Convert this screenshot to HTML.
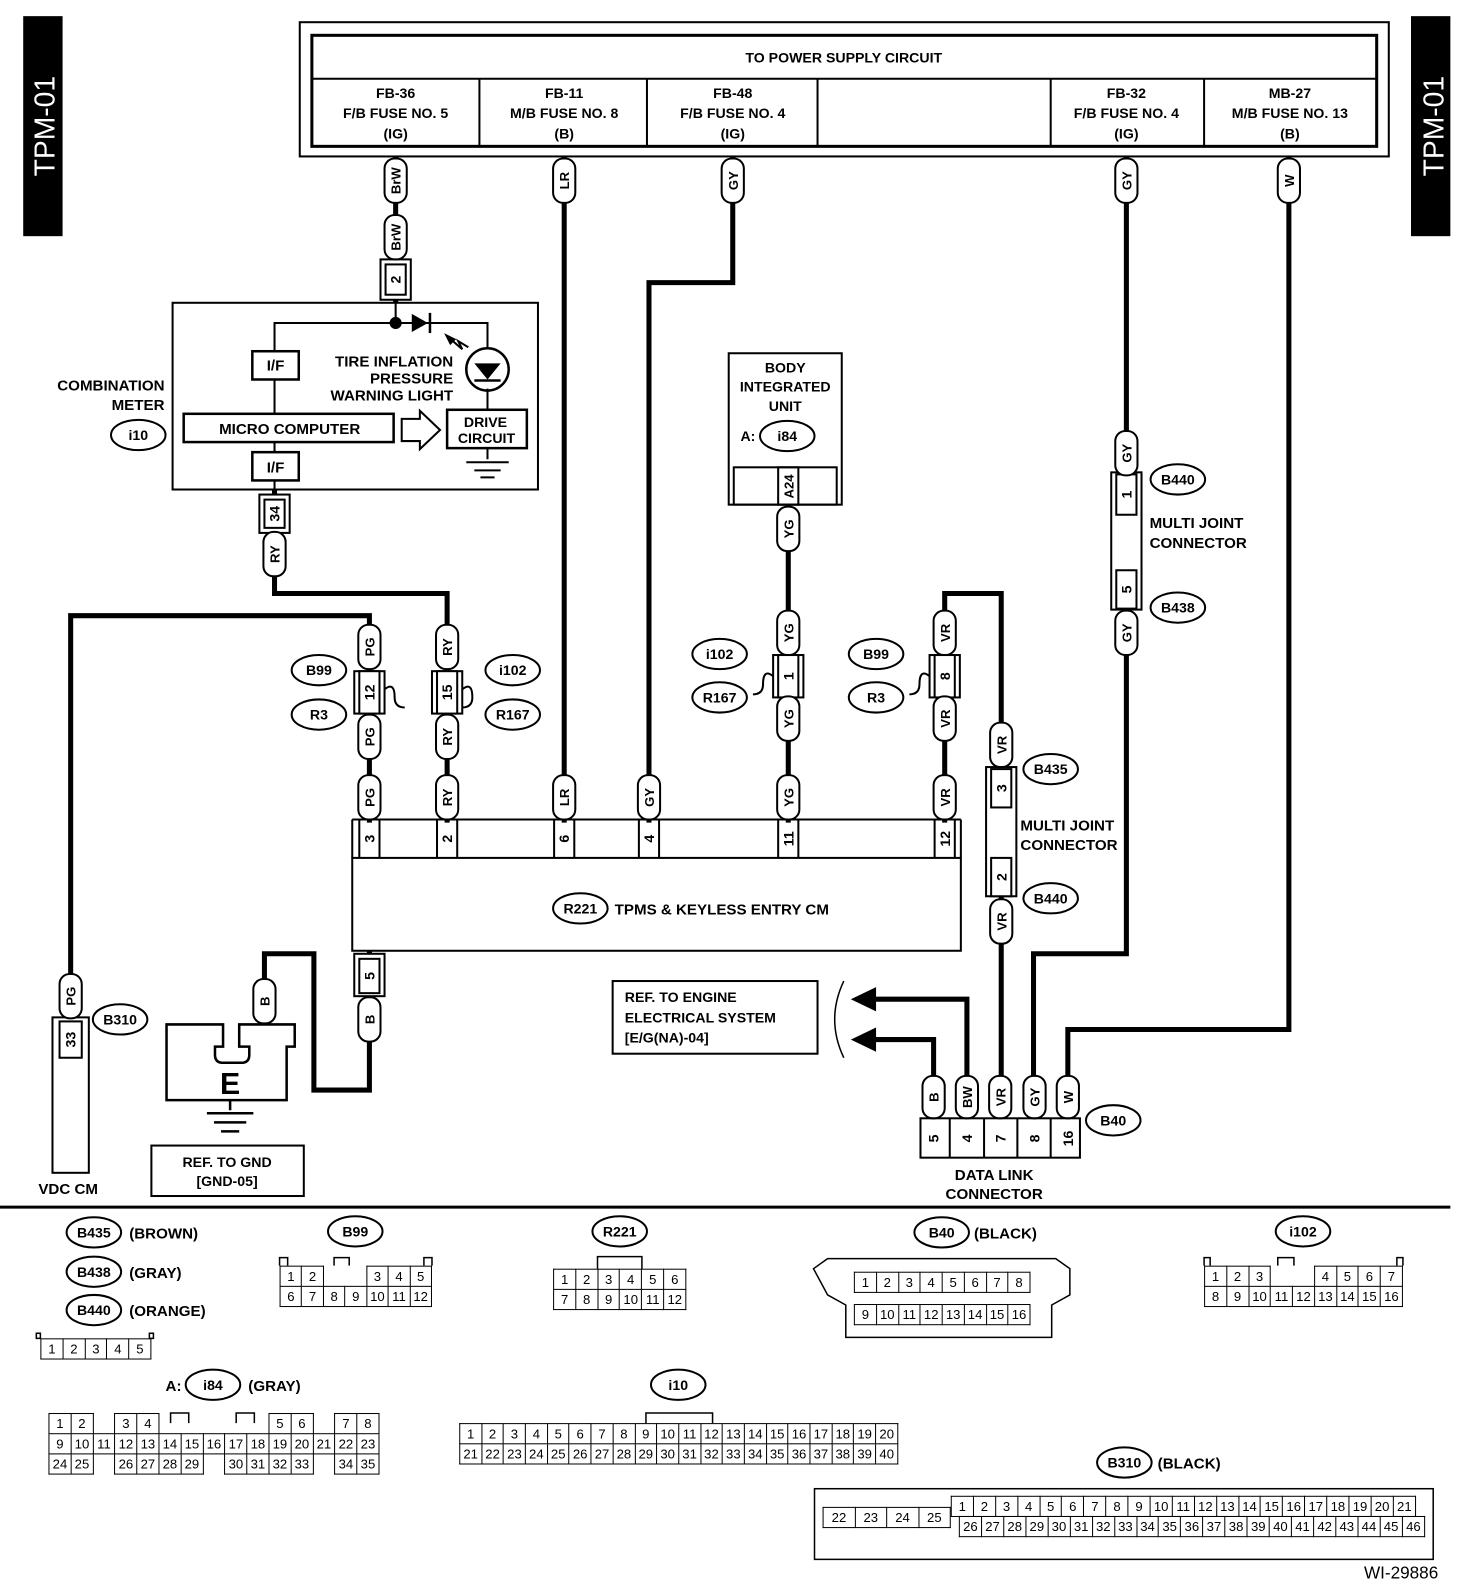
<!DOCTYPE html>
<html><head><meta charset="utf-8">
<style>
html,body{margin:0;padding:0;background:#fff;overflow:hidden;}
#wrap{position:relative;width:1472px;height:1582px;overflow:hidden;font-family:"Liberation Sans",Arial,sans-serif;transform:scale(1.0093);transform-origin:0 0;}
svg{position:absolute;left:0;top:0;}
svg text{font-family:"Liberation Sans",Arial,sans-serif;font-weight:bold;fill:#000;}
.t{position:absolute;border-collapse:collapse;table-layout:fixed;font-family:"Liberation Sans Narrow","Liberation Sans",sans-serif;font-size:13px;}
.t td{border:1.5px solid #000;padding:0;text-align:center;height:19px;line-height:19px;background:#fff;overflow:hidden;}
.t td.n{border:none;background:transparent;}
</style></head><body><div id="wrap">
<svg width="1472" height="1582" viewBox="0 0 1472 1582">
<rect x="23" y="16" width="39" height="218" fill="#000"/>
<rect x="1398" y="16" width="39" height="218" fill="#000"/>
<text transform="translate(54,125) rotate(-90)" font-size="28" style="fill:#fff;font-weight:normal" text-anchor="middle">TPM-01</text>
<text transform="translate(1430,125) rotate(-90)" font-size="28" style="fill:#fff;font-weight:normal" text-anchor="middle">TPM-01</text>
<g fill="none" stroke="#000" stroke-width="2">
<rect x="297" y="22" width="1079" height="133"/>
<rect x="309" y="35" width="1055" height="110" stroke-width="3"/>
<line x1="309" y1="78" x2="1364" y2="78"/>
<line x1="475" y1="78" x2="475" y2="145"/><line x1="641" y1="78" x2="641" y2="145"/>
<line x1="810" y1="78" x2="810" y2="145"/><line x1="1041" y1="78" x2="1041" y2="145"/>
<line x1="1193" y1="78" x2="1193" y2="145"/>
</g>
<g font-size="14" text-anchor="middle">
<text x="836" y="62">TO POWER SUPPLY CIRCUIT</text>
<text x="392" y="97">FB-36</text><text x="392" y="117">F/B FUSE NO. 5</text><text x="392" y="137">(IG)</text>
<text x="559" y="97">FB-11</text><text x="559" y="117">M/B FUSE NO. 8</text><text x="559" y="137">(B)</text>
<text x="726" y="97">FB-48</text><text x="726" y="117">F/B FUSE NO. 4</text><text x="726" y="137">(IG)</text>
<text x="1116" y="97">FB-32</text><text x="1116" y="117">F/B FUSE NO. 4</text><text x="1116" y="137">(IG)</text>
<text x="1278" y="97">MB-27</text><text x="1278" y="117">M/B FUSE NO. 13</text><text x="1278" y="137">(B)</text>
</g>
<g fill="none" stroke="#000" stroke-width="5" stroke-linejoin="miter">
<path d="M392,155V300"/>
<path d="M559,155V815"/>
<path d="M726,155V280H643V815"/>
<path d="M1116,155V945H1024V1080"/>
<path d="M1277,155V1020H1058V1080"/>
<path d="M272,485V588H443V815"/>
<path d="M70,965V610H366V815"/>
<path d="M781,500V815"/>
<path d="M936,815V588H992V1080"/>
<path d="M366,942V1080H311V945H262V1015"/>
<path d="M925,1080V1030H860"/>
<path d="M958,1080V990H860"/>
</g>
<path d="M843,1030 L868,1018 L868,1042z"/>
<path d="M843,990 L868,978 L868,1002z"/>
<path d="M836,972 Q818,1010 836,1048" fill="none" stroke="#000" stroke-width="1.5"/>
<g fill="none" stroke="#000" stroke-width="2">
<rect x="171" y="300" width="362" height="185"/>
<path d="M392,300V320M272,485V476M272,448V438M272,410V376M272,348V320H483V345M483,385V406"/>
<rect x="250" y="348" width="46" height="28" stroke-width="2.5"/>
<rect x="182" y="410" width="208" height="28" stroke-width="2.5"/>
<rect x="250" y="448" width="46" height="28" stroke-width="2.5"/>
<rect x="443" y="406" width="79" height="38" stroke-width="2.5"/>
<circle cx="483" cy="366" r="21" stroke-width="2.5"/>
<path d="M398,415h18v-8l20,19l-20,19v-8h-18z"/>
<path d="M483,444V455M462,458h42M470,466h26M476,473h14"/>
<path d="M443,333l15,13l-4,-8l10,6"/>
<line x1="426" y1="310" x2="426" y2="330" stroke-width="2.5"/>
<line x1="470" y1="377" x2="496" y2="377" stroke-width="2.5"/>
</g>
<circle cx="392" cy="320" r="6"/>
<path d="M408,311 L424,320 L408,329z"/>
<path d="M470,360 L496,360 L483,376z"/>
<path d="M440,330 L452,336 L446,342z"/>
<g font-size="15" text-anchor="middle">
<text x="273" y="367">I/F</text><text x="273" y="468">I/F</text>
<text x="287" y="430">MICRO COMPUTER</text>
<text x="481" y="423" font-size="14">DRIVE</text><text x="482" y="439" font-size="14">CIRCUIT</text>
<text x="449" y="363" text-anchor="end">TIRE INFLATION</text>
<text x="449" y="380" text-anchor="end">PRESSURE</text>
<text x="449" y="397" text-anchor="end">WARNING LIGHT</text>
<text x="163" y="387" text-anchor="end">COMBINATION</text>
<text x="163" y="406" text-anchor="end">METER</text>
</g>
<g fill="none" stroke="#000" stroke-width="2">
<rect x="722" y="350" width="112" height="150"/>
<rect x="727" y="463" width="102" height="37"/>
<rect x="771" y="463" width="20" height="37"/>
</g>
<g font-size="14" text-anchor="middle">
<text x="778" y="369">BODY</text><text x="778" y="388">INTEGRATED</text><text x="778" y="407">UNIT</text>
<text x="741" y="437">A:</text>
<text transform="translate(786,482) rotate(-90)" font-size="13">A24</text>
</g>
<g fill="none" stroke="#000" stroke-width="2">
<rect x="349" y="850" width="603" height="92"/>
<path d="M349,812V850M952,812V850M349,812H952"/>
</g>
<g fill="#fff" stroke="#000" stroke-width="2">
<rect x="377" y="257" width="30" height="40"/><rect x="382" y="262" width="20" height="30"/>
<rect x="257" y="490" width="30" height="38"/><rect x="262" y="495" width="20" height="28"/>
<rect x="351" y="665" width="30" height="42"/><rect x="356" y="665" width="20" height="42"/>
<rect x="428" y="665" width="30" height="42"/><rect x="433" y="665" width="20" height="42"/>
<rect x="766" y="649" width="30" height="42"/><rect x="771" y="649" width="20" height="42"/>
<rect x="921" y="649" width="30" height="42"/><rect x="926" y="649" width="20" height="42"/>
<rect x="977" y="760" width="30" height="128"/>
<rect x="982" y="762" width="20" height="38"/><rect x="982" y="850" width="20" height="38"/>
<rect x="1101" y="468" width="30" height="136"/>
<rect x="1106" y="470" width="20" height="40"/><rect x="1106" y="565" width="20" height="38"/>
<rect x="351" y="945" width="30" height="42"/><rect x="356" y="950" width="20" height="34"/>
<rect x="52" y="1008" width="36" height="154"/><rect x="59" y="1012" width="22" height="36"/>
<rect x="912" y="1108" width="158" height="39"/>
</g>
<g fill="none" stroke="#000" stroke-width="2">
<path d="M381,683q10,-8 10,8q0,10 10,10M458,683q10,-8 10,8q0,10 -10,10"/>
<path d="M766,670q-10,-8 -10,8q0,10 -10,10M921,670q-10,-8 -10,8q0,10 -10,10"/>
<path d="M356,812V850M376,812V850M433,812V850M453,812V850M549,812V850M569,812V850M633,812V850M653,812V850M771,812V850M791,812V850M926,812V850M946,812V850"/>
<path d="M941,1108V1147M975,1108V1147M1008,1108V1147M1041,1108V1147"/>
</g>
<g font-size="14" text-anchor="middle">
<text transform="translate(397,277) rotate(-90)">2</text>
<text transform="translate(277,509) rotate(-90)">34</text>
<text transform="translate(371,686) rotate(-90)">12</text>
<text transform="translate(448,686) rotate(-90)">15</text>
<text transform="translate(786,670) rotate(-90)">1</text>
<text transform="translate(941,670) rotate(-90)">8</text>
<text transform="translate(997,781) rotate(-90)">3</text>
<text transform="translate(997,869) rotate(-90)">2</text>
<text transform="translate(1121,490) rotate(-90)">1</text>
<text transform="translate(1121,584) rotate(-90)">5</text>
<text transform="translate(371,967) rotate(-90)">5</text>
<text transform="translate(75,1030) rotate(-90)">33</text>
<text transform="translate(371,831) rotate(-90)">3</text>
<text transform="translate(448,831) rotate(-90)">2</text>
<text transform="translate(564,831) rotate(-90)">6</text>
<text transform="translate(648,831) rotate(-90)">4</text>
<text transform="translate(786,831) rotate(-90)">11</text>
<text transform="translate(941,831) rotate(-90)">12</text>
<text transform="translate(930,1128) rotate(-90)">5</text>
<text transform="translate(963,1128) rotate(-90)">4</text>
<text transform="translate(996,1128) rotate(-90)">7</text>
<text transform="translate(1030,1128) rotate(-90)">8</text>
<text transform="translate(1063,1128) rotate(-90)">16</text>
</g>
<g fill="#fff" stroke="#000" stroke-width="2">
<rect x="381" y="157" width="22" height="44" rx="10"/>
<rect x="381" y="213" width="22" height="44" rx="10"/>
<rect x="548" y="157" width="22" height="44" rx="10"/>
<rect x="715" y="157" width="22" height="44" rx="10"/>
<rect x="1105" y="157" width="22" height="44" rx="10"/>
<rect x="1266" y="157" width="22" height="44" rx="10"/>
<rect x="261" y="527" width="22" height="44" rx="10"/>
<rect x="355" y="619" width="22" height="44" rx="10"/>
<rect x="432" y="619" width="22" height="44" rx="10"/>
<rect x="355" y="708" width="22" height="44" rx="10"/>
<rect x="432" y="708" width="22" height="44" rx="10"/>
<rect x="355" y="768" width="22" height="44" rx="10"/>
<rect x="432" y="768" width="22" height="44" rx="10"/>
<rect x="548" y="768" width="22" height="44" rx="10"/>
<rect x="632" y="768" width="22" height="44" rx="10"/>
<rect x="770" y="768" width="22" height="44" rx="10"/>
<rect x="925" y="768" width="22" height="44" rx="10"/>
<rect x="770" y="502" width="22" height="44" rx="10"/>
<rect x="770" y="605" width="22" height="44" rx="10"/>
<rect x="770" y="690" width="22" height="44" rx="10"/>
<rect x="925" y="605" width="22" height="44" rx="10"/>
<rect x="925" y="690" width="22" height="44" rx="10"/>
<rect x="981" y="716" width="22" height="44" rx="10"/>
<rect x="981" y="891" width="22" height="44" rx="10"/>
<rect x="1105" y="427" width="22" height="44" rx="10"/>
<rect x="1105" y="605" width="22" height="44" rx="10"/>
<rect x="59" y="965" width="22" height="44" rx="10"/>
<rect x="251" y="970" width="22" height="44" rx="10"/>
<rect x="355" y="988" width="22" height="44" rx="10"/>
<rect x="914" y="1066" width="22" height="42" rx="10"/>
<rect x="947" y="1066" width="22" height="42" rx="10"/>
<rect x="980" y="1066" width="22" height="42" rx="10"/>
<rect x="1014" y="1066" width="22" height="42" rx="10"/>
<rect x="1047" y="1066" width="22" height="42" rx="10"/>
</g>
<g font-size="13" text-anchor="middle">
<text transform="translate(397,179) rotate(-90)">BrW</text>
<text transform="translate(397,235) rotate(-90)">BrW</text>
<text transform="translate(564,179) rotate(-90)">LR</text>
<text transform="translate(731,179) rotate(-90)">GY</text>
<text transform="translate(1121,179) rotate(-90)">GY</text>
<text transform="translate(1282,179) rotate(-90)">W</text>
<text transform="translate(277,549) rotate(-90)">RY</text>
<text transform="translate(371,641) rotate(-90)">PG</text>
<text transform="translate(448,641) rotate(-90)">RY</text>
<text transform="translate(371,730) rotate(-90)">PG</text>
<text transform="translate(448,730) rotate(-90)">RY</text>
<text transform="translate(371,790) rotate(-90)">PG</text>
<text transform="translate(448,790) rotate(-90)">RY</text>
<text transform="translate(564,790) rotate(-90)">LR</text>
<text transform="translate(648,790) rotate(-90)">GY</text>
<text transform="translate(786,790) rotate(-90)">YG</text>
<text transform="translate(941,790) rotate(-90)">VR</text>
<text transform="translate(786,524) rotate(-90)">YG</text>
<text transform="translate(786,627) rotate(-90)">YG</text>
<text transform="translate(786,712) rotate(-90)">YG</text>
<text transform="translate(941,627) rotate(-90)">VR</text>
<text transform="translate(941,712) rotate(-90)">VR</text>
<text transform="translate(997,738) rotate(-90)">VR</text>
<text transform="translate(997,913) rotate(-90)">VR</text>
<text transform="translate(1121,449) rotate(-90)">GY</text>
<text transform="translate(1121,627) rotate(-90)">GY</text>
<text transform="translate(75,987) rotate(-90)">PG</text>
<text transform="translate(267,992) rotate(-90)">B</text>
<text transform="translate(371,1010) rotate(-90)">B</text>
<text transform="translate(930,1087) rotate(-90)">B</text>
<text transform="translate(963,1087) rotate(-90)">BW</text>
<text transform="translate(996,1087) rotate(-90)">VR</text>
<text transform="translate(1030,1087) rotate(-90)">GY</text>
<text transform="translate(1063,1087) rotate(-90)">W</text>
</g>
<g fill="#fff" stroke="#000" stroke-width="2">
<ellipse cx="137" cy="431" rx="27" ry="15"/>
<ellipse cx="780" cy="432" rx="27" ry="15"/>
<ellipse cx="1167" cy="475" rx="27" ry="15"/>
<ellipse cx="1167" cy="602" rx="27" ry="15"/>
<ellipse cx="316" cy="664" rx="27" ry="15"/>
<ellipse cx="316" cy="708" rx="27" ry="15"/>
<ellipse cx="508" cy="664" rx="27" ry="15"/>
<ellipse cx="508" cy="708" rx="27" ry="15"/>
<ellipse cx="713" cy="648" rx="27" ry="15"/>
<ellipse cx="713" cy="691" rx="27" ry="15"/>
<ellipse cx="868" cy="648" rx="27" ry="15"/>
<ellipse cx="868" cy="691" rx="27" ry="15"/>
<ellipse cx="1041" cy="762" rx="27" ry="15"/>
<ellipse cx="1041" cy="890" rx="27" ry="15"/>
<ellipse cx="575" cy="900" rx="27" ry="15"/>
<ellipse cx="119" cy="1010" rx="27" ry="15"/>
<ellipse cx="1103" cy="1110" rx="27" ry="15"/>
<ellipse cx="93" cy="1221" rx="27" ry="15"/>
<ellipse cx="93" cy="1260" rx="27" ry="15"/>
<ellipse cx="93" cy="1298" rx="27" ry="15"/>
<ellipse cx="352" cy="1220" rx="27" ry="15"/>
<ellipse cx="614" cy="1220" rx="27" ry="15"/>
<ellipse cx="933" cy="1221" rx="27" ry="15"/>
<ellipse cx="1291" cy="1220" rx="27" ry="15"/>
<ellipse cx="211" cy="1372" rx="27" ry="15"/>
<ellipse cx="672" cy="1372" rx="27" ry="15"/>
<ellipse cx="1114" cy="1449" rx="27" ry="15"/>
</g>
<g font-size="14" text-anchor="middle">
<text x="137" y="436">i10</text><text x="780" y="437">i84</text>
<text x="1167" y="480">B440</text><text x="1167" y="607">B438</text>
<text x="316" y="669">B99</text><text x="316" y="713">R3</text>
<text x="508" y="669">i102</text><text x="508" y="713">R167</text>
<text x="713" y="653">i102</text><text x="713" y="696">R167</text>
<text x="868" y="653">B99</text><text x="868" y="696">R3</text>
<text x="1041" y="767">B435</text><text x="1041" y="895">B440</text>
<text x="575" y="905">R221</text><text x="119" y="1015">B310</text>
<text x="1103" y="1115">B40</text>
<text x="93" y="1226">B435</text><text x="93" y="1265">B438</text><text x="93" y="1303">B440</text>
<text x="352" y="1225">B99</text><text x="614" y="1225">R221</text><text x="933" y="1226">B40</text>
<text x="1291" y="1225">i102</text><text x="211" y="1377">i84</text><text x="672" y="1377">i10</text>
<text x="1114" y="1454">B310</text>
</g>
<g font-size="15">
<text x="1139" y="523">MULTI JOINT</text><text x="1139" y="543">CONNECTOR</text>
<text x="1011" y="823">MULTI JOINT</text><text x="1011" y="842">CONNECTOR</text>
<text x="609" y="906">TPMS &amp; KEYLESS ENTRY CM</text>
<text x="128" y="1227">(BROWN)</text><text x="128" y="1266">(GRAY)</text><text x="128" y="1304">(ORANGE)</text>
<text x="965" y="1227">(BLACK)</text>
<text x="164" y="1378">A:</text><text x="246" y="1378">(GRAY)</text>
<text x="1147" y="1455">(BLACK)</text>
<text x="38" y="1183">VDC CM</text>
<text x="985" y="1169" text-anchor="middle">DATA LINK</text>
<text x="985" y="1188" text-anchor="middle">CONNECTOR</text>
</g>
<g fill="none" stroke="#000" stroke-width="2">
<rect x="607" y="972" width="203" height="72"/>
<rect x="150" y="1135" width="151" height="50"/>
</g>
<g font-size="14">
<text x="619" y="993">REF. TO ENGINE</text>
<text x="619" y="1013">ELECTRICAL SYSTEM</text>
<text x="619" y="1033">[E/G(NA)-04]</text>
<text x="225" y="1156" text-anchor="middle">REF. TO GND</text>
<text x="225" y="1175" text-anchor="middle">[GND-05]</text>
</g>
<g fill="none" stroke="#000" stroke-width="2.5">
<path d="M165,1015h56v22h-8v8q0,8 8,8h18q8,0 8,-8v-8h-10v-22h55v22h-8v53h-119v-53h0z"/>
<path d="M228,1090V1100M205,1103h46M212,1112h32M219,1121h18"/>
</g>
<text x="228" y="1084" font-size="30" text-anchor="middle">E</text>
<line x1="0" y1="1196" x2="1437" y2="1196" stroke="#000" stroke-width="3"/>
<g fill="none" stroke="#000" stroke-width="1.5">
<path d="M36,1326h4v-5h-4zM152,1326h-4v-5h4z"/>
<path d="M277,1254v-8h8v8M420,1254v-8h8v8M331,1254v-8h15v8"/>
<path d="M592,1257v-12h44v12"/>
<path d="M806,1257l14,-10h226l14,10v26l-18,10v32h-204v-32l-18,-10z"/>
<path d="M1193,1254v-8h6v8M1384,1254v-8h6v8M1266,1254v-8h16v8"/>
<path d="M169,1410v-10h18v10M234,1410v-10h18v10"/>
<path d="M640,1410v-10h66v10"/>
<rect x="807" y="1475" width="613" height="70"/>
</g>
<text x="1425" y="1564" font-size="17" text-anchor="end" style="font-weight:normal">WI-29886</text>
</svg>

<table class="t" style="left:40px;top:1326px;width:110px"><tr><td>1</td><td>2</td><td>3</td><td>4</td><td>5</td></tr></table>

<table class="t" style="left:277px;top:1254px;width:151px"><tr><td>1</td><td>2</td><td class="n"></td><td class="n"></td><td>3</td><td>4</td><td>5</td></tr><tr><td>6</td><td>7</td><td>8</td><td>9</td><td>10</td><td>11</td><td>12</td></tr></table>

<table class="t" style="left:548px;top:1257px;width:132px"><tr><td>1</td><td>2</td><td>3</td><td>4</td><td>5</td><td>6</td></tr><tr><td>7</td><td>8</td><td>9</td><td>10</td><td>11</td><td>12</td></tr></table>

<table class="t" style="left:846px;top:1260px;width:175px"><tr><td>1</td><td>2</td><td>3</td><td>4</td><td>5</td><td>6</td><td>7</td><td>8</td></tr></table>
<table class="t" style="left:846px;top:1292px;width:175px"><tr><td>9</td><td>10</td><td>11</td><td>12</td><td>13</td><td>14</td><td>15</td><td>16</td></tr></table>

<table class="t" style="left:1193px;top:1254px;width:197px"><tr><td>1</td><td>2</td><td>3</td><td class="n"></td><td class="n"></td><td>4</td><td>5</td><td>6</td><td>7</td></tr><tr><td>8</td><td>9</td><td>10</td><td>11</td><td>12</td><td>13</td><td>14</td><td>15</td><td>16</td></tr></table>

<table class="t" style="left:48px;top:1400px;width:328px"><tr><td>1</td><td>2</td><td class="n"></td><td>3</td><td>4</td><td class="n"></td><td class="n"></td><td class="n"></td><td class="n"></td><td class="n"></td><td>5</td><td>6</td><td class="n"></td><td>7</td><td>8</td></tr>
<tr><td>9</td><td>10</td><td>11</td><td>12</td><td>13</td><td>14</td><td>15</td><td>16</td><td>17</td><td>18</td><td>19</td><td>20</td><td>21</td><td>22</td><td>23</td></tr>
<tr><td>24</td><td>25</td><td class="n"></td><td>26</td><td>27</td><td>28</td><td>29</td><td class="n"></td><td>30</td><td>31</td><td>32</td><td>33</td><td class="n"></td><td>34</td><td>35</td></tr></table>

<table class="t" style="left:455px;top:1410px;width:435px"><tr><td>1</td><td>2</td><td>3</td><td>4</td><td>5</td><td>6</td><td>7</td><td>8</td><td>9</td><td>10</td><td>11</td><td>12</td><td>13</td><td>14</td><td>15</td><td>16</td><td>17</td><td>18</td><td>19</td><td>20</td></tr>
<tr><td>21</td><td>22</td><td>23</td><td>24</td><td>25</td><td>26</td><td>27</td><td>28</td><td>29</td><td>30</td><td>31</td><td>32</td><td>33</td><td>34</td><td>35</td><td>36</td><td>37</td><td>38</td><td>39</td><td>40</td></tr></table>

<table class="t" style="left:815px;top:1493px;width:127px"><tr><td>22</td><td>23</td><td>24</td><td>25</td></tr></table>
<table class="t" style="left:942px;top:1482px;width:461px"><tr><td>1</td><td>2</td><td>3</td><td>4</td><td>5</td><td>6</td><td>7</td><td>8</td><td>9</td><td>10</td><td>11</td><td>12</td><td>13</td><td>14</td><td>15</td><td>16</td><td>17</td><td>18</td><td>19</td><td>20</td><td>21</td></tr></table>
<table class="t" style="left:950px;top:1502px;width:462px"><tr><td>26</td><td>27</td><td>28</td><td>29</td><td>30</td><td>31</td><td>32</td><td>33</td><td>34</td><td>35</td><td>36</td><td>37</td><td>38</td><td>39</td><td>40</td><td>41</td><td>42</td><td>43</td><td>44</td><td>45</td><td>46</td></tr></table>
</div></body></html>
